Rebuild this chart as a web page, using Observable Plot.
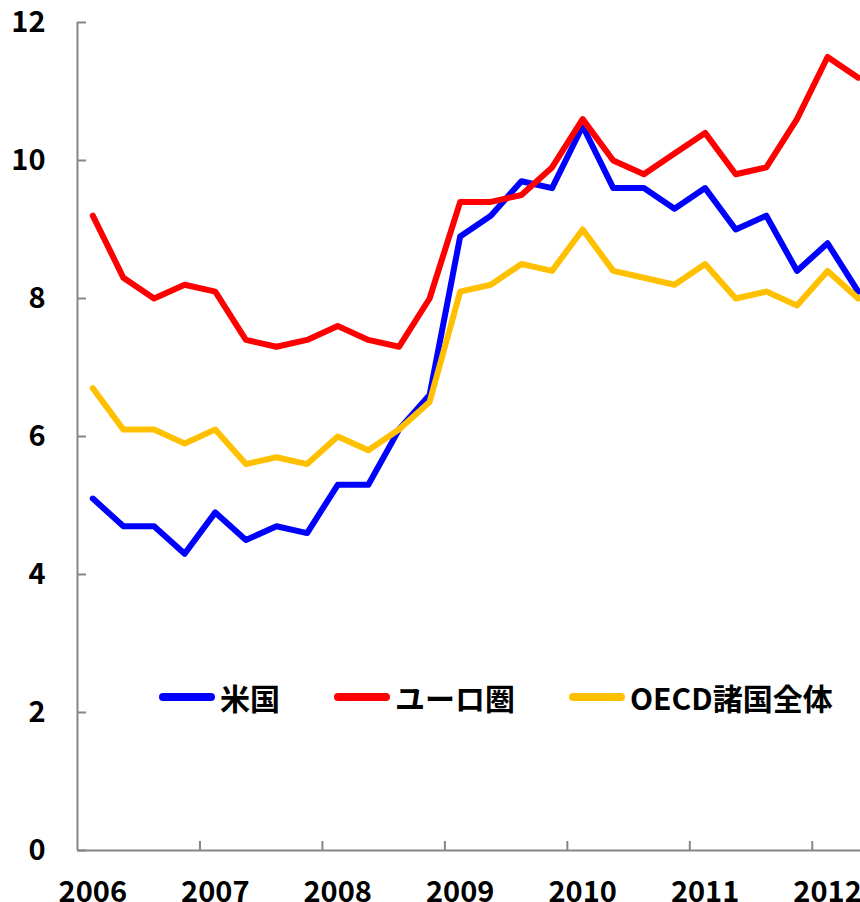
<!DOCTYPE html>
<html><head><meta charset="utf-8">
<script src="https://cdn.jsdelivr.net/npm/d3@7"></script>
<script src="https://cdn.jsdelivr.net/npm/@observablehq/plot@0.6"></script>
<style>
body{margin:0;background:#fff;}
#wrap{position:relative;width:860px;height:902px;overflow:hidden;}
#legend{position:absolute;left:159px;top:682px;display:flex;align-items:center;font-family:"Noto Sans CJK JP",sans-serif;font-weight:bold;font-size:30px;color:#000;line-height:1;white-space:nowrap;}
.item{display:flex;align-items:center;margin-right:54px;flex-shrink:0;}
.sw{width:56px;height:8px;border-radius:4px;margin-right:5px;flex-shrink:0;}
</style></head><body><div id="wrap"></div>
<script>
const quarters = [
  "2006Q1","2006Q2","2006Q3","2006Q4","2007Q1","2007Q2","2007Q3","2007Q4",
  "2008Q1","2008Q2","2008Q3","2008Q4","2009Q1","2009Q2","2009Q3","2009Q4",
  "2010Q1","2010Q2","2010Q3","2010Q4","2011Q1","2011Q2","2011Q3","2011Q4",
  "2012Q1","2012Q2"
];
const usa  = [5.1,4.7,4.7,4.3,4.9,4.5,4.7,4.6,5.3,5.3,6.1,6.6,8.9,9.2,9.7,9.6,10.5,9.6,9.6,9.3,9.6,9.0,9.2,8.4,8.8,8.1];
const euro = [9.2,8.3,8.0,8.2,8.1,7.4,7.3,7.4,7.6,7.4,7.3,8.0,9.4,9.4,9.5,9.9,10.6,10.0,9.8,10.1,10.4,9.8,9.9,10.6,11.5,11.2];
const oecd = [6.7,6.1,6.1,5.9,6.1,5.6,5.7,5.6,6.0,5.8,6.1,6.5,8.1,8.2,8.5,8.4,9.0,8.4,8.3,8.2,8.5,8.0,8.1,7.9,8.4,8.0];
const seriesNames = ["米国","ユーロ圏","OECD諸国全体"];
const seriesColors = ["#0000ff","#ff0000","#ffc000"];
const yearLabels = ["2006","2007","2008","2009","2010","2011","2012"];
const yTicks = [0,2,4,6,8,10,12];

const seriesValues = [usa, euro, oecd];
const data = seriesNames.flatMap((name, s) =>
  quarters.map((q, i) => ({i, quarter: q, series: name, value: seriesValues[s][i]})));
const yearStarts = yearLabels.map(y => quarters.indexOf(y + "Q1"));
const yearBoundaries = yearStarts.slice(1).map(i => i - 0.5);
const axisColor = "#868686";
const font = '"Noto Sans CJK JP", sans-serif';

const chart = Plot.plot({
  width: 860, height: 902,
  marginLeft: 77, marginTop: 22, marginBottom: 52, marginRight: 0,
  style: {fontFamily: font, fontSize: "29px", fontWeight: "bold", color: "#000", background: "#fff", overflow: "hidden"},
  x: {domain: [-0.5, quarters.length - 0.5], range: [77, 873], label: null},
  y: {domain: [0, 12], label: null},
  color: {domain: seriesNames, range: seriesColors},
  marks: [
    Plot.ruleY([0], {stroke: axisColor, strokeWidth: 2}),
    Plot.ruleX([-0.5], {y1: 0, y2: 12, stroke: axisColor, strokeWidth: 2}),
    Plot.axisY({ticks: yTicks, tickSize: 9, dx: 9, stroke: axisColor, strokeWidth: 2, fill: "none", label: null}),
    Plot.axisY({ticks: yTicks, tickSize: 0, tickPadding: 32, fill: "#000", fontWeight: "bold", label: null}),
    Plot.axisX({ticks: yearBoundaries, tickSize: 9, dy: -9, stroke: axisColor, strokeWidth: 2, fill: "none", label: null}),
    Plot.axisX({ticks: yearStarts, tickSize: 0, tickPadding: 31, fill: "#000", fontWeight: "bold", label: null,
      tickFormat: i => quarters[i].slice(0, 4)}),
    Plot.line(data, {x: "i", y: "value", z: "series", stroke: "series", strokeWidth: 6,
      strokeLinejoin: "round", strokeLinecap: "round"})
  ]
});
const wrap = document.getElementById("wrap");
wrap.appendChild(chart);

const legend = document.createElement("div");
legend.id = "legend";
seriesNames.forEach((name, s) => {
  const item = document.createElement("div");
  item.className = "item";
  const sw = document.createElement("div");
  sw.className = "sw";
  sw.style.background = seriesColors[s];
  const t = document.createElement("span");
  t.textContent = name;
  item.appendChild(sw); item.appendChild(t);
  legend.appendChild(item);
});
wrap.appendChild(legend);
</script>
</body></html>
